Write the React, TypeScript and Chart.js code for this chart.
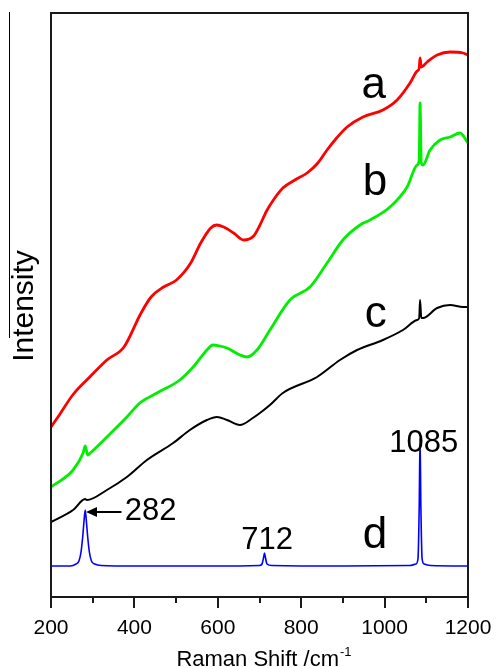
import React, { useEffect, useRef } from 'react';
import { Chart, registerables } from 'chart.js';

Chart.register(...registerables);

// Raman shift (cm^-1) and intensity (arb. units)
const shiftA = [200, 220, 252, 293, 334, 375, 416, 440, 470, 501, 535, 559, 583, 597, 614, 638, 662, 686, 700, 717, 735, 756, 785, 814, 840, 862, 885, 910, 948, 996, 1030, 1061, 1078, 1083, 1085, 1088, 1102, 1126, 1157, 1188, 1200];
const intensityA = [170, 182, 202, 220, 237, 250, 284, 300, 310, 317, 334, 354, 369, 372, 370, 364, 357, 361, 371, 386, 398, 409, 417, 424, 434, 447, 459, 470, 480, 487, 497, 514, 526, 529, 539, 530, 535, 542, 545, 544, 542];

const shiftB = [200, 253, 277, 282, 288, 294, 334, 382, 413, 454, 509, 541, 574, 588, 605, 622, 653, 670, 694, 725, 773, 821, 862, 900, 941, 965, 1013, 1054, 1078, 1083, 1085, 1088, 1092, 1109, 1133, 1157, 1181, 1200];
const intensityB = [110, 127, 144, 151, 142, 144, 160, 180, 194, 204, 217, 230, 247, 252, 251, 249, 242, 240, 247, 267, 297, 310, 334, 357, 372, 377, 390, 410, 432, 437, 494, 434, 432, 447, 457, 460, 464, 454];

const shiftC = [200, 253, 282, 286, 334, 382, 430, 493, 533, 574, 598, 622, 653, 684, 701, 725, 756, 838, 893, 934, 996, 1044, 1078, 1083, 1085, 1088, 1092, 1126, 1157, 1188, 1200];
const intensityC = [75, 87, 98, 97, 107, 120, 137, 154, 167, 177, 180, 177, 172, 179, 184, 192, 204, 220, 237, 247, 257, 267, 277, 279, 297, 279, 279, 289, 292, 290, 290];

const shiftD = [200, 246, 260, 267, 272, 276, 279, 282, 285, 288, 292, 297, 305, 320, 400, 600, 700, 706, 710, 712, 714, 718, 730, 900, 1060, 1075, 1080, 1083, 1085, 1087, 1090, 1095, 1110, 1200];
const intensityD = [31, 31, 33, 36, 45, 60, 75, 87, 75, 60, 45, 36, 33, 31.5, 31, 31, 31.5, 33, 40, 44, 40, 33, 31.5, 31, 31.5, 33, 38, 90, 159, 90, 38, 33, 31.5, 31];

const xTicks = [200, 300, 400, 500, 600, 700, 800, 900, 1000, 1100, 1200];

// curve labels: text, shift, intensity (baseline)
const curveLabels = ['a', 'b', 'c', 'd'];
const curveLabelX = [974, 977, 979, 977];
const curveLabelY = [499, 402, 270, 49];

// peak labels
const peakLabels = ['1085', '712', '282'];
const peakLabelX = [1094, 718, 377];
const peakLabelY = [145, 48, 77];

const FONT = '"Liberation Sans", Arial, Helvetica, sans-serif';

function pts(xs: number[], ys: number[]) {
  return xs.map((x, i) => ({ x, y: ys[i] }));
}

const decorPlugin = {
  id: 'decor',
  afterDraw(chart: any) {
    const { ctx, chartArea, scales } = chart;
    const xs = scales.x;
    const ys = scales.y;
    const { left, right, top, bottom } = chartArea;
    ctx.save();
    // frame
    ctx.strokeStyle = '#1a1a1a';
    ctx.lineWidth = 2;
    ctx.strokeRect(left, top, right - left, bottom - top);
    // ticks
    xTicks.forEach((v) => {
      const px = Math.round(xs.getPixelForValue(v));
      const len = v % 200 === 0 ? 11 : 6;
      ctx.beginPath();
      ctx.moveTo(px, bottom);
      ctx.lineTo(px, bottom + len);
      ctx.stroke();
    });
    // stray vertical rule at far left
    ctx.lineWidth = 1;
    ctx.strokeStyle = '#000';
    ctx.beginPath();
    ctx.moveTo(9.5, 12);
    ctx.lineTo(9.5, 338);
    ctx.stroke();

    ctx.fillStyle = '#000';
    // x title with superscript
    ctx.textBaseline = 'alphabetic';
    ctx.font = `22px ${FONT}`;
    const main = 'Raman Shift /cm';
    const wMain = ctx.measureText(main).width;
    ctx.font = `13px ${FONT}`;
    const sup = '-1';
    const wSup = ctx.measureText(sup).width;
    const cx = (left + right) / 2 + 4;
    const startX = cx - (wMain + wSup) / 2;
    ctx.font = `22px ${FONT}`;
    ctx.textAlign = 'left';
    ctx.fillText(main, startX, 666);
    ctx.font = `13px ${FONT}`;
    ctx.fillText(sup, startX + wMain + 1, 656);

    // y title
    ctx.save();
    ctx.translate(33, (top + bottom) / 2 + 1);
    ctx.rotate(-Math.PI / 2);
    ctx.font = `30px ${FONT}`;
    ctx.textAlign = 'center';
    ctx.textBaseline = 'alphabetic';
    ctx.fillText('Intensity', 0, 0);
    ctx.restore();

    // curve labels
    ctx.font = `44px ${FONT}`;
    ctx.textAlign = 'center';
    curveLabels.forEach((t, i) => {
      ctx.fillText(t, xs.getPixelForValue(curveLabelX[i]), ys.getPixelForValue(curveLabelY[i]));
    });
    // peak labels
    ctx.font = `31px ${FONT}`;
    peakLabels.forEach((t, i) => {
      ctx.textAlign = t === '282' ? 'left' : 'center';
      ctx.fillText(t, xs.getPixelForValue(peakLabelX[i]), ys.getPixelForValue(peakLabelY[i]));
    });
    // arrow for 282
    const ay = ys.getPixelForValue(85);
    const tipX = xs.getPixelForValue(284);
    const tailX = xs.getPixelForValue(369);
    ctx.lineWidth = 2;
    ctx.beginPath();
    ctx.moveTo(tailX, ay);
    ctx.lineTo(tipX + 8, ay);
    ctx.stroke();
    ctx.beginPath();
    ctx.moveTo(tipX, ay);
    ctx.lineTo(tipX + 11, ay - 5);
    ctx.lineTo(tipX + 11, ay + 5);
    ctx.closePath();
    ctx.fill();
    ctx.restore();
  },
};

export default function App() {
  const ref = useRef<HTMLCanvasElement>(null);
  useEffect(() => {
    if (!ref.current) return;
    const chart = new Chart(ref.current, {
      type: 'line',
      data: {
        datasets: [
          { label: 'a', data: pts(shiftA, intensityA), borderColor: '#ff0000', borderWidth: 2.8 },
          { label: 'b', data: pts(shiftB, intensityB), borderColor: '#00ee00', borderWidth: 2.8 },
          { label: 'c', data: pts(shiftC, intensityC), borderColor: '#000000', borderWidth: 2 },
          { label: 'd', data: pts(shiftD, intensityD), borderColor: '#0000ff', borderWidth: 1.6 },
        ],
      },
      options: {
        responsive: false,
        animation: false,
        elements: { point: { radius: 0 }, line: { cubicInterpolationMode: 'monotone', borderJoinStyle: 'round' } },
        layout: { padding: { left: 51, right: 28, top: 13, bottom: 0 } },
        plugins: { legend: { display: false }, tooltip: { enabled: false } },
        scales: {
          x: {
            type: 'linear',
            min: 200,
            max: 1200,
            afterFit: (s: any) => {
              s.height = 71;
              s.paddingLeft = 0;
              s.paddingRight = 0;
              s.paddingTop = 0;
              s.paddingBottom = 0;
            },
            afterBuildTicks: (s: any) => { s.ticks = xTicks.map((v) => ({ value: v })); },
            ticks: {
              autoSkip: false,
              maxRotation: 0,
              padding: 8,
              color: '#000',
              font: { family: FONT, size: 21 },
              callback: (v: any) => (Number(v) % 200 === 0 ? String(v) : ''),
            },
            grid: { display: true, drawOnChartArea: false, drawTicks: true, tickLength: 11, tickColor: 'rgba(0,0,0,0)' },
            border: { display: false },
          },
          y: { type: 'linear', min: 0, max: 584, display: false },
        },
      } as any,
      plugins: [decorPlugin],
    });
    return () => chart.destroy();
  }, []);
  return (
    <div style={{ position: 'absolute', left: 0, top: 0, width: 496, height: 668, background: '#fff' }}>
      <canvas ref={ref} width={496} height={668} style={{ display: 'block' }} />
    </div>
  );
}
